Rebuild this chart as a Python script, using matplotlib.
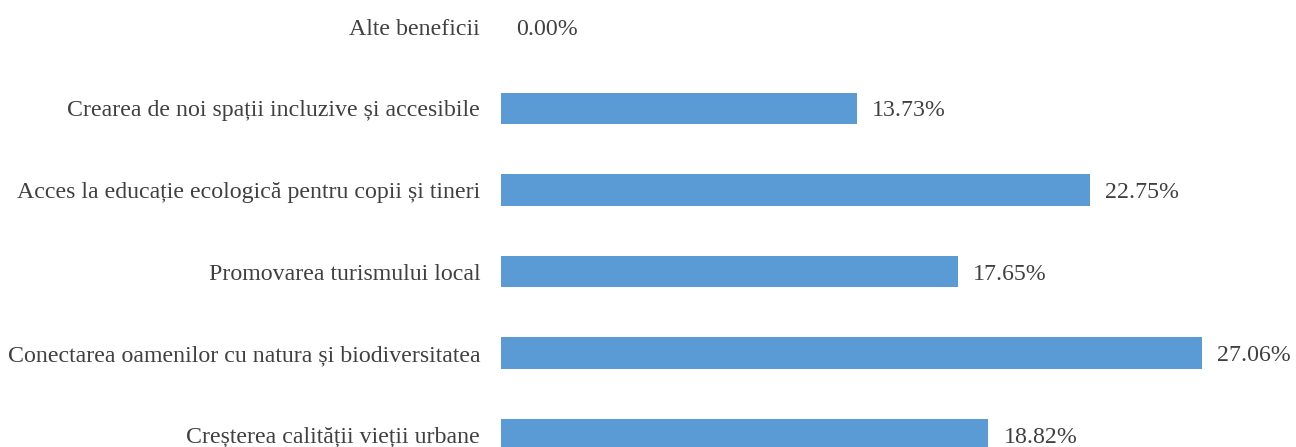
import matplotlib
matplotlib.use("Agg")
import matplotlib.pyplot as plt

categories = [
    "Creșterea calității vieții urbane",
    "Conectarea oamenilor cu natura și biodiversitatea",
    "Promovarea turismului local",
    "Acces la educație ecologică pentru copii și tineri",
    "Crearea de noi spații incluzive și accesibile",
    "Alte beneficii",
]
values = [18.82, 27.06, 17.65, 22.75, 13.73, 0.00]

W, H, DPI = 1296, 447, 100
fig = plt.figure(figsize=(W / DPI, H / DPI), dpi=DPI)
left_px = 501
px_per_unit = 25.9
xmax = 30.0
ax = fig.add_axes([left_px / W, 0, xmax * px_per_unit / W, 1])

text_color = "#404040"
font = ["Liberation Serif", "DejaVu Serif"]
ypos = list(range(len(categories)))
ax.barh(ypos, values, height=0.39, color="#5B9BD5")
ax.set_xlim(0, xmax)
ax.set_ylim(-0.153, 5.331)
ax.set_yticks(ypos)
ax.set_yticklabels(categories, family=font, fontsize=17.2, color=text_color,
                   va="center_baseline")
ax.tick_params(axis="y", length=0, pad=15)
ax.set_xticks([])
for s in ax.spines.values():
    s.set_visible(False)

for y, v in zip(ypos, values):
    ax.annotate(f"{v:.2f}%", xy=(v, y), xytext=(15, 0), textcoords="offset pixels",
                ha="left", va="center_baseline", family=font, fontsize=17.2,
                color=text_color)

fig.savefig("out.png", dpi=DPI)
